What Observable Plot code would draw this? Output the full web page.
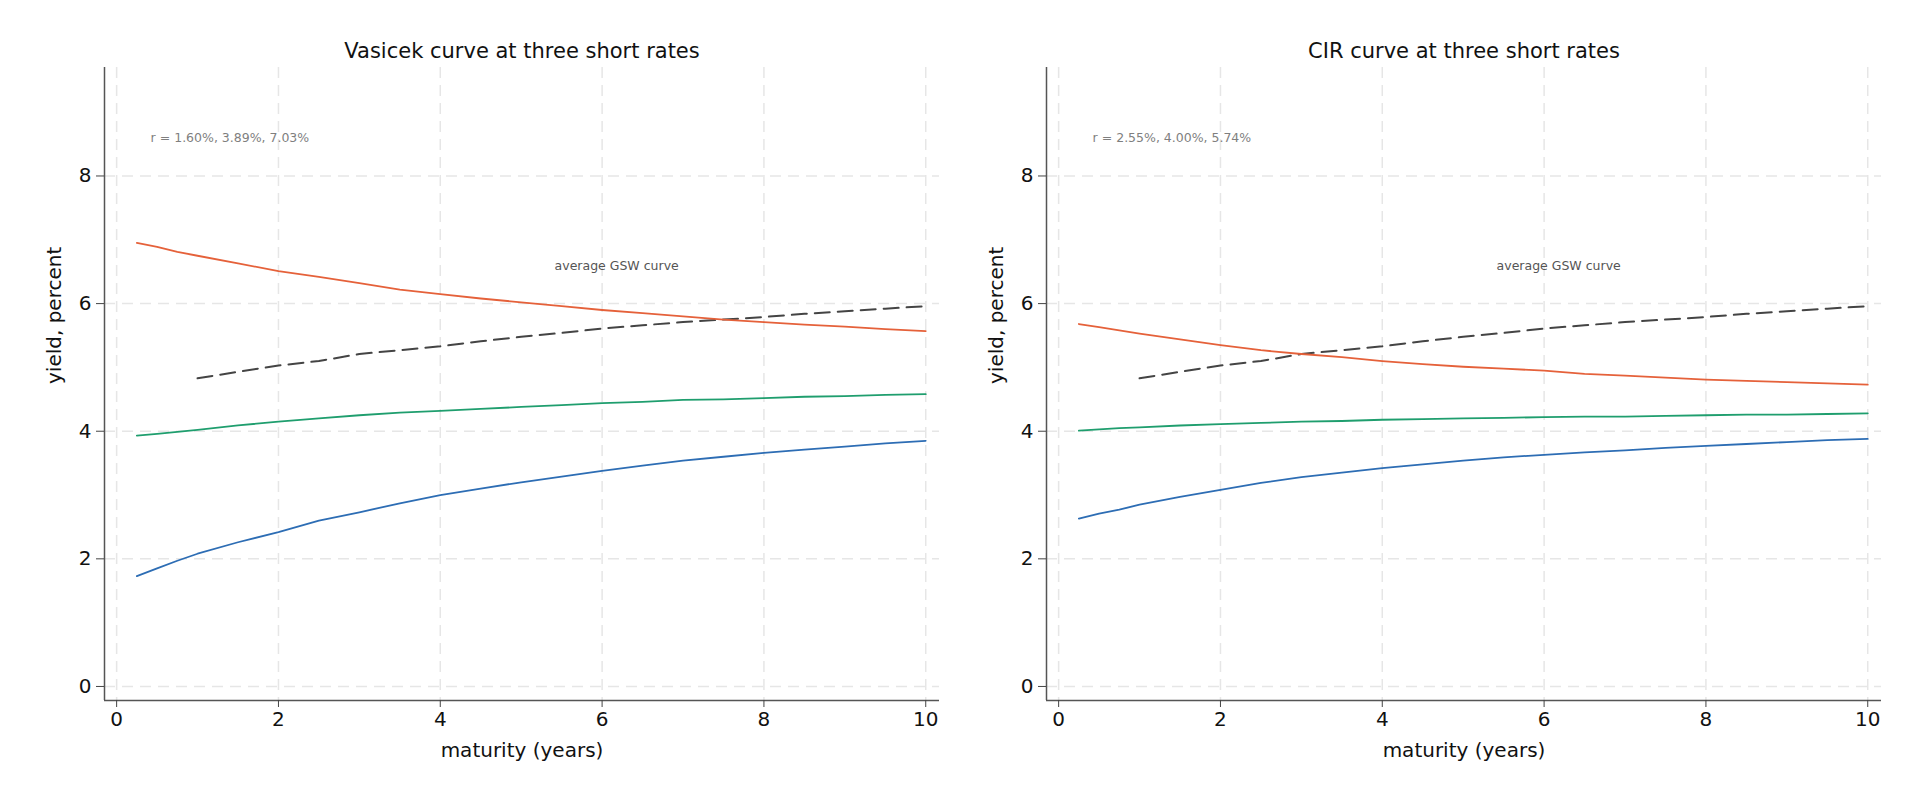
<!DOCTYPE html>
<html>
<head>
<meta charset="utf-8">
<script src="https://cdn.jsdelivr.net/npm/d3@7"></script>
<script src="https://cdn.jsdelivr.net/npm/@observablehq/plot@0.6"></script>
<style>
  html, body { margin: 0; padding: 0; background: #fff; }
  #wrap { position: relative; width: 1920px; height: 806px; overflow: hidden; font-family: "DejaVu Sans", sans-serif; }
  .panel { position: absolute; top: 0; }
</style>
</head>
<body>
<div id="wrap">
  <div class="panel" id="left" style="left:0px"></div>
  <div class="panel" id="right" style="left:942px"></div>
</div>
<script>
// maturities (years)
const maturities = [0.25, 0.5, 0.75, 1, 1.5, 2, 2.5, 3, 3.5, 4, 4.5, 5, 5.5, 6, 6.5, 7, 7.5, 8, 8.5, 9, 9.5, 10];

// Vasicek yields (percent) at three short rates
const vasicekLow  = [1.73, 1.85, 1.97, 2.08, 2.26, 2.42, 2.60, 2.73, 2.87, 3.00, 3.10, 3.20, 3.29, 3.38, 3.46, 3.54, 3.60, 3.66, 3.71, 3.76, 3.81, 3.85];
const vasicekMid  = [3.93, 3.96, 3.99, 4.02, 4.09, 4.15, 4.20, 4.25, 4.29, 4.32, 4.35, 4.38, 4.41, 4.44, 4.46, 4.49, 4.50, 4.52, 4.54, 4.55, 4.57, 4.58];
const vasicekHigh = [6.95, 6.89, 6.81, 6.75, 6.63, 6.51, 6.42, 6.32, 6.22, 6.15, 6.08, 6.02, 5.96, 5.90, 5.85, 5.80, 5.75, 5.71, 5.67, 5.64, 5.60, 5.57];

// CIR yields (percent) at three short rates
const cirLow  = [2.63, 2.71, 2.77, 2.85, 2.97, 3.08, 3.19, 3.28, 3.35, 3.42, 3.48, 3.54, 3.59, 3.63, 3.67, 3.70, 3.74, 3.77, 3.80, 3.83, 3.86, 3.88];
const cirMid  = [4.01, 4.03, 4.05, 4.06, 4.09, 4.11, 4.13, 4.15, 4.16, 4.18, 4.19, 4.20, 4.21, 4.22, 4.23, 4.23, 4.24, 4.25, 4.26, 4.26, 4.27, 4.28];
const cirHigh = [5.68, 5.63, 5.58, 5.53, 5.44, 5.35, 5.27, 5.21, 5.16, 5.10, 5.05, 5.01, 4.98, 4.95, 4.90, 4.87, 4.84, 4.81, 4.79, 4.77, 4.75, 4.73];

// average GSW curve
const gswMaturities = [1, 1.5, 2, 2.5, 3, 3.5, 4, 4.5, 5, 5.5, 6, 6.5, 7, 7.5, 8, 8.5, 9, 9.5, 10];
const gswYield      = [4.83, 4.93, 5.03, 5.10, 5.21, 5.27, 5.33, 5.41, 5.48, 5.54, 5.61, 5.66, 5.71, 5.75, 5.79, 5.84, 5.88, 5.92, 5.96];

// text
const titles = ["Vasicek curve at three short rates", "CIR curve at three short rates"];
const rLabels = ["r = 1.60%, 3.89%, 7.03%", "r = 2.55%, 4.00%, 5.74%"];
const gswLabel = "average GSW curve";
const xLabel = "maturity (years)";
const yLabel = "yield, percent";
const xTicks = [0, 2, 4, 6, 8, 10];
const yTicks = [0, 2, 4, 6, 8];

const colors = { low: "#2d6db4", mid: "#1f9e6e", high: "#e5613a", gsw: "#444444" };

function series(ys) { return maturities.map((m, i) => ({ m, y: ys[i] })); }

function panel(title, rLabel, low, mid, high) {
  const xMin = -0.15, xMax = 10.17, yMin = -0.22, yMax = 9.7;
  const gsw = gswMaturities.map((m, i) => ({ m, y: gswYield[i] }));
  return Plot.plot({
    width: 960,
    height: 806,
    marginLeft: 104,
    marginRight: 21,
    marginTop: 67,
    marginBottom: 106,
    style: { fontFamily: "'DejaVu Sans', sans-serif", fontSize: "20px", background: "white", color: "#111" },
    x: { domain: [xMin, xMax] },
    y: { domain: [yMin, yMax] },
    marks: [
      Plot.gridX({ ticks: xTicks, stroke: "#e6e6e6", strokeOpacity: 1, strokeWidth: 1.5, strokeDasharray: "11,7" }),
      Plot.gridY({ ticks: yTicks, stroke: "#e6e6e6", strokeOpacity: 1, strokeWidth: 1.5, strokeDasharray: "11,7" }),
      Plot.ruleX([xMin], { stroke: "#555", strokeWidth: 1.5 }),
      Plot.ruleY([yMin], { stroke: "#555", strokeWidth: 1.5 }),
      Plot.axisX({ ticks: xTicks, tickSize: 7, tickPadding: 4, stroke: "#444", fill: "#111", fontSize: 20, label: null, tickFormat: d3.format("d") }),
      Plot.axisY({ ticks: yTicks, tickSize: 8, tickPadding: 5, stroke: "#444", fill: "#111", fontSize: 20, label: null, tickFormat: d3.format("d") }),
      Plot.line(gsw, { x: "m", y: "y", stroke: colors.gsw, strokeWidth: 2, strokeDasharray: "15,8" }),
      Plot.line(series(low), { x: "m", y: "y", stroke: colors.low, strokeWidth: 1.8 }),
      Plot.line(series(mid), { x: "m", y: "y", stroke: colors.mid, strokeWidth: 1.8 }),
      Plot.line(series(high), { x: "m", y: "y", stroke: colors.high, strokeWidth: 1.8 }),
      Plot.text([rLabel], { x: 0.42, y: 8.6, text: d => d, textAnchor: "start", fill: "#7f7f7f", fontSize: 12.5 }),
      Plot.text([gswLabel], { x: 6.18, y: 6.59, text: d => d, textAnchor: "middle", fill: "#555", fontSize: 12.5 }),
      Plot.text([title], { frameAnchor: "top", dy: -16.5, text: d => d, lineAnchor: "middle", fill: "#111", fontSize: 21 }),
      Plot.text([xLabel], { frameAnchor: "bottom", dy: 50, text: d => d, lineAnchor: "middle", fill: "#111", fontSize: 20 }),
      Plot.text([yLabel], { frameAnchor: "left", dx: -50, rotate: -90, text: d => d, lineAnchor: "middle", fill: "#111", fontSize: 20 })
    ]
  });
}

document.getElementById("left").append(panel(titles[0], rLabels[0], vasicekLow, vasicekMid, vasicekHigh));
document.getElementById("right").append(panel(titles[1], rLabels[1], cirLow, cirMid, cirHigh));
</script>
</body>
</html>
